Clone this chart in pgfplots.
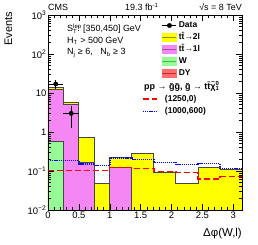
\documentclass[border=0pt]{standalone}
\usepackage{pgfplots}
\pgfplotsset{compat=1.18}
\usepackage{fontspec}
\setmainfont{Liberation Sans}
\definecolor{ttfill}{RGB}{255,255,0}
\definecolor{ttline}{RGB}{150,140,0}
\definecolor{onefill}{RGB}{245,135,245}
\definecolor{oneline}{RGB}{165,80,165}
\definecolor{wfill}{RGB}{150,250,150}
\definecolor{wline}{RGB}{70,190,70}
\definecolor{dyfill}{RGB}{255,110,110}
\definecolor{dyline}{RGB}{200,40,40}
\definecolor{histline}{RGB}{70,70,70}
\newcommand\supsub[2]{\rlap{\textsuperscript{#1}}\textsubscript{#2}}
\begin{document}
\begin{tikzpicture}
\path[use as bounding box] (0bp,0bp) rectangle (258bp,245bp);
\begin{axis}[
  at={(48bp,35bp)}, anchor=south west, scale only axis,
  width=194bp, height=195bp,
  xmin=0, xmax=3.1416, ymin=0.01, ymax=1000, ymode=log,
  axis on top,
  tick align=inside, xtick pos=both, ytick pos=both,
  xtick={0,0.5,1,1.5,2,2.5,3},
  xticklabels={0,0.5,1,1.5,2,2.5,3},
  minor x tick num=4,
  ytick={0.01,0.1,1,10,100,1000},
  yticklabels={10\textsuperscript{−2},10\textsuperscript{−1},1,10,10\textsuperscript{2},10\textsuperscript{3}},
  major tick length=6bp, minor tick length=3bp,
  every tick/.style={black, line width=0.5bp},
  axis line style={black, line width=0.7bp},
  tick label style={font=\fontsize{9.5}{10}\selectfont},
  yticklabel style={inner sep=1.5bp},
  xticklabel style={inner sep=1.5bp},
  legend style={at={(0.587,0.976)}, anchor=north west, draw=none, fill=none,
    inner sep=0pt, outer sep=0pt, row sep=0.2bp,
    font=\fontsize{8.5}{10}\selectfont\bfseries,
    nodes={inner sep=1.8bp, text height=6.3bp, text depth=1.8bp}},
  legend cell align=left,
]
\addplot[const plot, fill=ttfill, draw=histline, line width=0.8bp, forget plot] coordinates {
 (0,0.01) (0,14.0) (0.25,5.78) (0.5,0.71) (0.75,0.048) (1.0,0.224) (1.357,0.278)
 (1.714,0.091) (2.071,0.049) (2.428,0.124) (2.785,0.112) (3.1416,0.112) (3.1416,0.01)} -- cycle;
\addplot[const plot, fill=onefill, draw=histline, line width=0.8bp, forget plot] coordinates {
 (0,0.01) (0,12.6) (0.25,5.0) (0.5,0.163) (0.75,0.01) (1.0,0.124) (1.357,0.124) (1.357,0.01)} -- cycle;
\addplot[const plot, fill=wfill, draw=histline, line width=0.8bp, forget plot] coordinates {
 (0,0.01) (0,0.56) (0.25,0.56) (0.25,0.01)} -- cycle;
\addplot[black, only marks, mark=*, mark size=2.2bp, forget plot,
  error bars/.cd, x dir=both, x explicit, y dir=both, y explicit, error mark=none,
  error bar style={line width=0.8bp, black},
  ] coordinates {(0.125,17) +- (0.125,4.12) (0.375,3) +- (0.125,1.73)};
\addlegendimage{legend image code/.code={\draw[black, line width=0.8bp] (0bp,0bp)--(14bp,0bp); \fill[black] (7bp,0bp) circle (2.2bp);}}
\addlegendentry{Data}
\addlegendimage{legend image code/.code={\fill[ttfill] (0bp,-4bp) rectangle (14bp,4bp); \draw[ttline, line width=1.2bp] (0bp,0bp)--(14bp,0bp);}}
\addlegendentry{t\={t}→2l}
\addlegendimage{legend image code/.code={\fill[onefill] (0bp,-4bp) rectangle (14bp,4bp); \draw[oneline, line width=1.2bp] (0bp,0bp)--(14bp,0bp);}}
\addlegendentry{t\={t}→1l}
\addlegendimage{legend image code/.code={\fill[wfill] (0bp,-4bp) rectangle (14bp,4bp); \draw[wline, line width=1.2bp] (0bp,0bp)--(14bp,0bp);}}
\addlegendentry{W}
\addlegendimage{legend image code/.code={\fill[dyfill] (0bp,-4bp) rectangle (14bp,4bp); \draw[dyline, line width=1.2bp] (0bp,0bp)--(14bp,0bp);}}
\addlegendentry{DY}
\end{axis}
\begin{axis}[
  at={(48bp,35bp)}, anchor=south west, scale only axis,
  width=194bp, height=195bp,
  xmin=0, xmax=3.1416, ymin=0.01, ymax=1000, ymode=log,
  hide axis,
  legend style={at={(0.486,0.6)}, anchor=north west, draw=none, fill=none,
    inner sep=0pt, outer sep=0pt, row sep=1bp, column sep=5.4bp,
    font=\fontsize{8.5}{10}\selectfont\bfseries,
    nodes={inner sep=1.8bp, text height=6.3bp, text depth=1.8bp}},
  legend cell align=left,
  legend image code/.code={\draw[#1] (0bp,0bp)--(14bp,0bp);},
]
\addplot[const plot, red, dash pattern=on 6bp off 3bp, line width=1.4bp] coordinates {
 (0,0.104) (0.25,0.102) (0.5,0.102) (0.75,0.102) (1.0,0.122) (1.357,0.115)
 (1.714,0.096) (2.071,0.091) (2.428,0.062) (2.785,0.072) (3.1416,0.072)};
\addlegendentry{(1250,0)}
\addplot[const plot, blue, dash pattern=on 1.2bp off 0.9bp, line width=1.5bp] coordinates {
 (0,0.186) (0.25,0.184) (0.5,0.153) (0.75,0.137) (1.0,0.217) (1.357,0.2)
 (1.714,0.167) (2.071,0.145) (2.428,0.154) (2.785,0.115) (3.1416,0.115)};
\addlegendentry{(1000,600)}
\end{axis}
\node[anchor=base west, font=\fontsize{9}{10}\selectfont, inner sep=0pt] at (48bp,234bp) {CMS};
\node[anchor=base west, font=\fontsize{9}{10}\selectfont, inner sep=0pt] at (125bp,234bp) {19.3 fb\textsuperscript{-1}};
\node[anchor=base east, font=\fontsize{9}{10}\selectfont, inner sep=0pt] at (242bp,234bp) {√s = 8 TeV};
\node[anchor=base west, font=\fontsize{9}{10}\selectfont, inner sep=0pt] at (67bp,213bp) {S\supsub{lep}{T}: [350,450] GeV};
\node[anchor=base west, font=\fontsize{9}{10}\selectfont, inner sep=0pt] at (67bp,201.5bp) {H\textsubscript{T} > 500 GeV};
\node[anchor=base west, font=\fontsize{9}{10}\selectfont, inner sep=0pt] at (67bp,190bp) {N\textsubscript{j} ≥ 6,\ \ \ N\textsubscript{b} ≥ 3};
\node[anchor=base west, font=\fontsize{9}{10}\selectfont\bfseries, inner sep=0pt] at (144bp,155.5bp) {pp → \~{g}\~{g}, \~{g} → t\={t}\~{χ}\supsub{0}{1}};
\node[anchor=base east, rotate=90, font=\fontsize{11}{12}\selectfont, inner sep=0pt] at (12bp,233bp) {Events};
\node[anchor=base east, font=\fontsize{11.5}{12}\selectfont, inner sep=0pt] at (242bp,8.5bp) {Δφ(W,l)};
\end{tikzpicture}
\end{document}
